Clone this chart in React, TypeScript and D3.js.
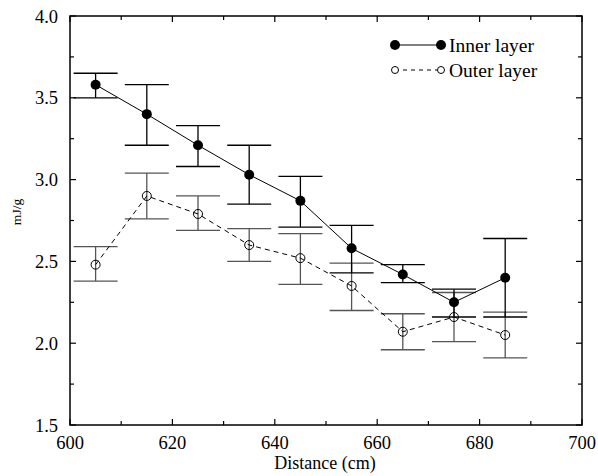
import React from "react";
import { scaleLinear, line, range } from "d3";

const distances = [605, 615, 625, 635, 645, 655, 665, 675, 685];

const innerMean = [3.58, 3.4, 3.21, 3.03, 2.87, 2.58, 2.42, 2.25, 2.4];
const innerLow = [3.5, 3.21, 3.08, 2.85, 2.71, 2.43, 2.37, 2.16, 2.16];
const innerHigh = [3.65, 3.58, 3.33, 3.21, 3.02, 2.72, 2.48, 2.33, 2.64];

const outerMean = [2.48, 2.9, 2.79, 2.6, 2.52, 2.35, 2.07, 2.16, 2.05];
const outerLow = [2.38, 2.76, 2.69, 2.5, 2.36, 2.2, 1.96, 2.01, 1.91];
const outerHigh = [2.59, 3.04, 2.9, 2.7, 2.67, 2.49, 2.18, 2.31, 2.19];

const xTicks = [600, 620, 640, 660, 680, 700];
const yTicks = [1.5, 2.0, 2.5, 3.0, 3.5, 4.0];

const W = 598;
const H = 476;
const left = 70;
const right = 582;
const top = 16;
const bottom = 425;
const txt = { fontFamily: "Liberation Serif", fill: "#000" };

export default function App() {
  const x = scaleLinear().domain([600, 700]).range([left, right]);
  const y = scaleLinear().domain([1.5, 4.0]).range([bottom, top]);

  const xMinor = range(610, 700, 20);
  const yMinor = range(1.75, 4.0, 0.5);

  const path = line<number>()
    .x((_, i) => x(distances[i]))
    .y((d) => y(d));

  const cap = 22;

  const errorBars = (lo: number[], hi: number[], color: string) =>
    distances.map((d, i) => (
      <g key={i} stroke={color} strokeWidth={1.3}>
        <line x1={x(d)} x2={x(d)} y1={y(lo[i])} y2={y(hi[i])} />
        <line x1={x(d) - cap} x2={x(d) + cap} y1={y(lo[i])} y2={y(lo[i])} />
        <line x1={x(d) - cap} x2={x(d) + cap} y1={y(hi[i])} y2={y(hi[i])} />
      </g>
    ));

  return (
    <svg width={W} height={H} style={{ position: "absolute", left: 0, top: 0 }}>
      <rect width={W} height={H} fill="#fff" />

      {/* error bars */}
      {errorBars(outerLow, outerHigh, "#555")}
      {errorBars(innerLow, innerHigh, "#000")}

      {/* lines */}
      <path d={path(outerMean) ?? ""} fill="none" stroke="#000" strokeWidth={1} strokeDasharray="5,4" />
      <path d={path(innerMean) ?? ""} fill="none" stroke="#000" strokeWidth={1} />

      {outerMean.map((v, i) => (
        <circle key={i} cx={x(distances[i])} cy={y(v)} r={4.5} fill="none" stroke="#000" strokeWidth={1} />
      ))}
      {innerMean.map((v, i) => (
        <circle key={i} cx={x(distances[i])} cy={y(v)} r={5} fill="#000" />
      ))}

      {/* frame */}
      <rect x={left} y={top} width={right - left} height={bottom - top} fill="none" stroke="#000" strokeWidth={1.5} />

      {/* ticks */}
      <g stroke="#000" strokeWidth={1.2}>
        {xTicks.map((t) => (
          <g key={t}>
            <line x1={x(t)} x2={x(t)} y1={bottom} y2={bottom - 6} />
            <line x1={x(t)} x2={x(t)} y1={top} y2={top + 6} />
          </g>
        ))}
        {xMinor.map((t) => (
          <g key={t}>
            <line x1={x(t)} x2={x(t)} y1={bottom} y2={bottom - 4} />
            <line x1={x(t)} x2={x(t)} y1={top} y2={top + 4} />
          </g>
        ))}
        {yTicks.map((t) => (
          <g key={t}>
            <line x1={left} x2={left + 6} y1={y(t)} y2={y(t)} />
            <line x1={right} x2={right - 6} y1={y(t)} y2={y(t)} />
          </g>
        ))}
        {yMinor.map((t) => (
          <g key={t}>
            <line x1={left} x2={left + 4} y1={y(t)} y2={y(t)} />
            <line x1={right} x2={right - 4} y1={y(t)} y2={y(t)} />
          </g>
        ))}
      </g>

      {/* tick labels */}
      {xTicks.map((t) => (
        <text key={t} x={x(t)} y={bottom + 24} textAnchor="middle" fontSize={18.5} style={txt}>
          {t}
        </text>
      ))}
      {yTicks.map((t) => (
        <text key={t} x={left - 12} y={y(t) + 6.5} textAnchor="end" fontSize={18.5} style={txt}>
          {t.toFixed(1)}
        </text>
      ))}

      {/* axis titles */}
      <text x={325} y={469} textAnchor="middle" fontSize={18} style={txt}>
        Distance (cm)
      </text>
      <text
        transform={`translate(21, ${212}) rotate(-90)`}
        textAnchor="middle"
        fontSize={13.5}
        style={txt}
      >
        mJ/g
      </text>

      {/* legend */}
      <line x1={395} x2={441} y1={45} y2={45} stroke="#000" strokeWidth={1} />
      <circle cx={395} cy={45} r={5} fill="#000" />
      <circle cx={441} cy={45} r={5} fill="#000" />
      <text x={449} y={51.5} fontSize={19.5} style={txt}>Inner layer</text>
      <line x1={395} x2={441} y1={70} y2={70} stroke="#000" strokeWidth={1} strokeDasharray="4,4" />
      <circle cx={395} cy={70} r={3.5} fill="#fff" stroke="#000" strokeWidth={1} />
      <circle cx={441} cy={70} r={3.5} fill="#fff" stroke="#000" strokeWidth={1} />
      <text x={449} y={76.5} fontSize={19.5} style={txt}>Outer layer</text>
    </svg>
  );
}
